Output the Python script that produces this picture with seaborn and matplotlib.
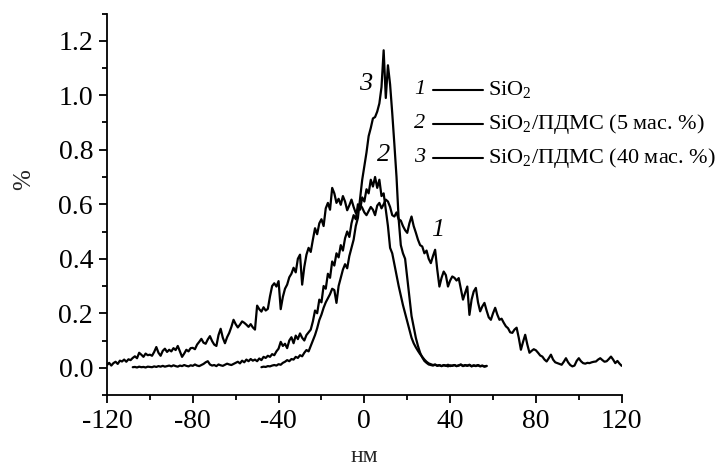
import numpy as np
import pandas as pd
import matplotlib
matplotlib.use("Agg")
import matplotlib.pyplot as plt
import seaborn as sns
from matplotlib.ticker import MultipleLocator, FixedLocator, FormatStrFormatter

# ---------------- data ----------------
x_sio2_start, x_sio2_end = -120, 120
y_sio2 = [
    0.010, 0.018, 0.008, 0.017, 0.022, 0.014, 0.026, 0.023, 0.030, 0.022,
    0.031, 0.028, 0.036, 0.042, 0.035, 0.055, 0.048, 0.040, 0.052, 0.046,
    0.048, 0.044, 0.058, 0.076, 0.055, 0.044, 0.062, 0.070, 0.058, 0.066,
    0.060, 0.072, 0.065, 0.080, 0.060, 0.040, 0.052, 0.066, 0.060, 0.072,
    0.073, 0.068, 0.085, 0.095, 0.106, 0.092, 0.088, 0.104, 0.116, 0.098,
    0.085, 0.080, 0.120, 0.143, 0.110, 0.090, 0.112, 0.128, 0.150, 0.176,
    0.160, 0.148, 0.158, 0.170, 0.165, 0.158, 0.150, 0.160, 0.148, 0.140,
    0.228, 0.215, 0.206, 0.222, 0.210, 0.216, 0.262, 0.300, 0.310, 0.298,
    0.318, 0.215, 0.260, 0.290, 0.305, 0.332, 0.345, 0.367, 0.350, 0.400,
    0.415, 0.305, 0.370, 0.415, 0.440, 0.425, 0.470, 0.512, 0.490, 0.530,
    0.545, 0.520, 0.585, 0.605, 0.580, 0.660, 0.640, 0.605, 0.620, 0.598,
    0.630, 0.610, 0.578, 0.596, 0.617, 0.590, 0.568, 0.575, 0.600, 0.587,
    0.570, 0.560, 0.575, 0.590, 0.580, 0.560, 0.595, 0.605, 0.585, 0.600,
    0.617, 0.610, 0.590, 0.560, 0.555, 0.570, 0.545, 0.540, 0.520, 0.505,
    0.495, 0.530, 0.555, 0.520, 0.496, 0.470, 0.450, 0.445, 0.420, 0.430,
    0.400, 0.384, 0.410, 0.433, 0.360, 0.298, 0.330, 0.353, 0.340, 0.298,
    0.320, 0.335, 0.330, 0.320, 0.329, 0.290, 0.250, 0.275, 0.298, 0.194,
    0.250, 0.280, 0.293, 0.240, 0.207, 0.225, 0.238, 0.210, 0.185, 0.176,
    0.200, 0.220, 0.195, 0.176, 0.180, 0.165, 0.152, 0.145, 0.130, 0.128,
    0.140, 0.147, 0.110, 0.066, 0.095, 0.121, 0.085, 0.055, 0.062, 0.068,
    0.064, 0.055, 0.045, 0.041, 0.030, 0.023, 0.035, 0.048, 0.030, 0.020,
    0.017, 0.014, 0.011, 0.022, 0.035, 0.020, 0.010, 0.005, 0.008, 0.025,
    0.035, 0.024, 0.017, 0.015, 0.018, 0.017, 0.020, 0.022, 0.023, 0.030,
    0.035, 0.028, 0.022, 0.024, 0.032, 0.041, 0.030, 0.017, 0.025, 0.015,
    0.007,
]

x_pdms5_start, x_pdms5_end = -108, 57
y_pdms5 = [
    0.002, 0.003, 0.001, 0.004, 0.002, 0.003, 0.001, 0.004, 0.003, 0.002,
    0.005, 0.003, 0.006, 0.004, 0.007, 0.004, 0.006, 0.008, 0.005, 0.009,
    0.006, 0.004, 0.008, 0.006, 0.010, 0.007, 0.005, 0.009, 0.007, 0.012,
    0.008, 0.006, 0.010, 0.014, 0.020, 0.024, 0.012, 0.008, 0.010, 0.006,
    0.012, 0.009, 0.007, 0.011, 0.015, 0.012, 0.010, 0.014, 0.018, 0.022,
    0.016, 0.026, 0.020, 0.030, 0.024, 0.032, 0.026, 0.030, 0.024, 0.034,
    0.028, 0.040, 0.036, 0.044, 0.040, 0.050, 0.046, 0.060, 0.070, 0.095,
    0.080, 0.088, 0.072, 0.100, 0.112, 0.090, 0.118, 0.105, 0.126, 0.110,
    0.100, 0.120, 0.130, 0.140, 0.170, 0.210, 0.200, 0.250, 0.240, 0.300,
    0.290, 0.345, 0.330, 0.390, 0.375, 0.420, 0.405, 0.450, 0.430, 0.475,
    0.500, 0.480, 0.530, 0.560, 0.545, 0.600, 0.580, 0.625, 0.610, 0.655,
    0.640, 0.690, 0.665, 0.700, 0.660, 0.690, 0.630, 0.640, 0.580, 0.520,
    0.440, 0.420, 0.380, 0.340, 0.300, 0.265, 0.230, 0.200, 0.170, 0.140,
    0.110, 0.090, 0.075, 0.062, 0.050, 0.040, 0.030, 0.022, 0.016, 0.013,
    0.010, 0.012, 0.008, 0.010, 0.006, 0.009, 0.007, 0.011, 0.006, 0.008,
    0.010, 0.006, 0.009, 0.012, 0.007, 0.010, 0.008, 0.011, 0.006, 0.009,
    0.007, 0.010, 0.006, 0.008, 0.005, 0.007,
]

x_pdms40_start, x_pdms40_end = -48, 57
y_pdms40 = [
    0.002, 0.004, 0.003, 0.006, 0.005, 0.008, 0.010, 0.008, 0.013, 0.011,
    0.018, 0.022, 0.028, 0.024, 0.032, 0.030, 0.040, 0.036, 0.046, 0.042,
    0.055, 0.065, 0.060, 0.080, 0.100, 0.120, 0.145, 0.175, 0.195, 0.220,
    0.240, 0.255, 0.270, 0.290, 0.285, 0.238, 0.300, 0.330, 0.360, 0.380,
    0.365, 0.410, 0.440, 0.470, 0.520, 0.550, 0.620, 0.690, 0.740, 0.790,
    0.850, 0.880, 0.915, 0.920, 0.940, 0.970, 1.030, 1.165, 0.990, 1.110,
    1.040, 0.935, 0.820, 0.700, 0.545, 0.450, 0.420, 0.400, 0.330, 0.260,
    0.190, 0.150, 0.110, 0.080, 0.055, 0.038, 0.025, 0.018, 0.012, 0.010,
    0.008, 0.011, 0.007, 0.009, 0.006, 0.010, 0.008, 0.005, 0.009, 0.007,
    0.010, 0.006, 0.008, 0.011, 0.006, 0.009, 0.007, 0.010, 0.005, 0.008,
    0.006, 0.009, 0.005, 0.007, 0.004, 0.006,
]

series_numbers = ["1", "2", "3"]
series_labels = [r"SiO$_2$", r"SiO$_2$/ПДМС (5 мас. %)", r"SiO$_2$/ПДМС (40 мас. %)"]
x_ticks = [-120, -80, -40, 0, 40, 80, 120]
y_ticks = [0.0, 0.2, 0.4, 0.6, 0.8, 1.0, 1.2]
x_label = "нм"
y_label = "%"

# ---------------- style ----------------
sns.set_style("ticks")
plt.rcParams["font.family"] = ["Liberation Serif", "DejaVu Serif"]
plt.rcParams["mathtext.fontset"] = "custom"
plt.rcParams["mathtext.rm"] = "Liberation Serif"
plt.rcParams["mathtext.it"] = "Liberation Serif:italic"
plt.rcParams["axes.unicode_minus"] = False

frames = []
for name, (xs, xe), ys in [
    ("1", (x_sio2_start, x_sio2_end), y_sio2),
    ("2", (x_pdms5_start, x_pdms5_end), y_pdms5),
    ("3", (x_pdms40_start, x_pdms40_end), y_pdms40),
]:
    xx = np.arange(xs, xe + 1)
    frames.append(pd.DataFrame({"x": xx, "y": ys, "curve": name}))
df = pd.concat(frames, ignore_index=True)

fig = plt.figure(figsize=(7.21, 4.70), dpi=100)
ax = fig.add_axes([107 / 721, 75 / 470, 514.7 / 721, 381.5 / 470])

sns.lineplot(data=df, x="x", y="y", units="curve", estimator=None,
             color="black", lw=1.6, ax=ax, legend=False)

ax.set_xlim(-120, 120)
ax.set_ylim(-0.1, 1.3)
sns.despine(ax=ax)
for s in ["left", "bottom"]:
    ax.spines[s].set_linewidth(1.3)
    ax.spines[s].set_color("black")

ax.xaxis.set_major_locator(FixedLocator(x_ticks))
ax.xaxis.set_minor_locator(MultipleLocator(20))
ax.yaxis.set_major_locator(FixedLocator(y_ticks))
ax.yaxis.set_minor_locator(MultipleLocator(0.1))
ax.yaxis.set_major_formatter(FormatStrFormatter("%.1f"))
ax.tick_params(which="major", length=6, width=1.3, labelsize=20, color="black",
               labelcolor="black", direction="out", pad=4)
ax.tick_params(which="minor", length=3.5, width=1.3, color="black", direction="out")

ax.set_xlabel(x_label, fontsize=17)
ax.set_ylabel(y_label, fontsize=18)
ax.xaxis.label.set_va("center")
ax.yaxis.label.set_va("center")
ax.xaxis.set_label_coords((364 - 107) / 514.7, (395 - 456) / 381.5)
ax.yaxis.set_label_coords((24 - 107) / 514.7, (395 - 180) / 381.5)

# legend: italic number, line, text
row_y = [(395 - 90) / 381.5, (395 - 124) / 381.5, (395 - 158) / 381.5]
num_x = (420 - 107) / 514.7
line_x0, line_x1 = (433 - 107) / 514.7, (483 - 107) / 514.7
text_x = (488 - 107) / 514.7
for num, lab, ry in zip(series_numbers, series_labels, row_y):
    ax.text(num_x, ry, num, transform=ax.transAxes, fontsize=16, style="italic",
            ha="center", va="center", color="black")
    ax.plot([line_x0, line_x1], [ry, ry], transform=ax.transAxes, color="black",
            lw=1.5, clip_on=False)
    ax.text(text_x, ry, lab, transform=ax.transAxes, fontsize=16,
            ha="left", va="center", color="black")

# curve labels
curve_label_pos = {"3": (0.5, 1.04), "2": (8.9, 0.78), "1": (34.0, 0.506)}
for num in series_numbers:
    cx, cy = curve_label_pos[num]
    ax.text(cx, cy, num, fontsize=19, style="italic", ha="center", va="center",
            color="black")

fig.savefig("out.png", dpi=100)
